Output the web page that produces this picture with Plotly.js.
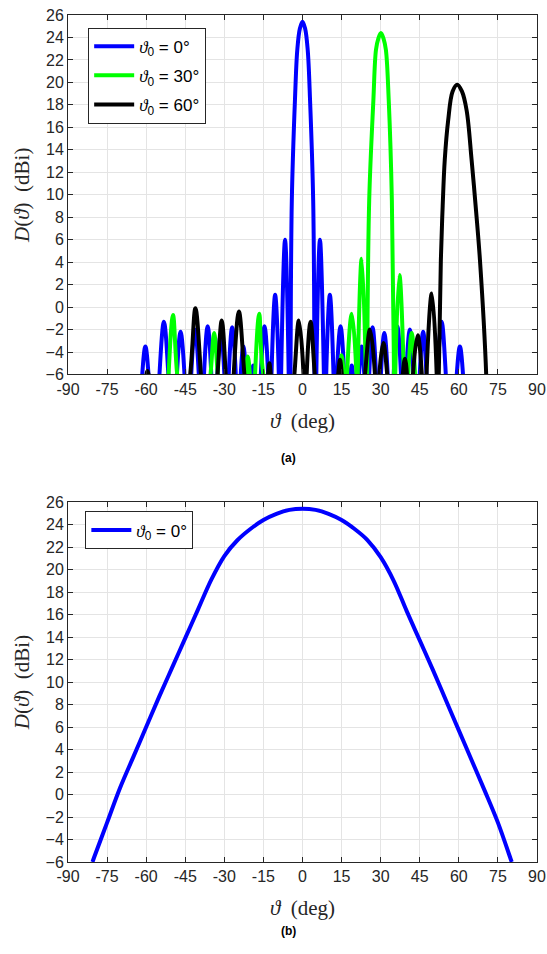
<!DOCTYPE html>
<html>
<head>
<meta charset="utf-8">
<script src="https://cdn.plot.ly/plotly-3.0.1.min.js"></script>
<style>html,body{margin:0;padding:0;background:#fff;}#chart{width:547px;height:954px;}</style>
</head>
<body>
<div id="chart"></div>
<script>
// ---------- data: panel (a) ----------
const xTicks = [-90,-75,-60,-45,-30,-15,0,15,30,45,60,75,90];
const xTickText = ['-90','-75','-60','-45','-30','-15','0','15','30','45','60','75','90'];
const yTicks = [-6,-4,-2,0,2,4,6,8,10,12,14,16,18,20,22,24,26];

const seriesNamesA = ['ϑ0 = 0°','ϑ0 = 30°','ϑ0 = 60°'];

// theta0 = 0 deg (blue)
const blueTheta = [-63,-61.5,-60.3,-59.1,-57,-54.9,-53.2,-51.5,-49.9,-48.2,-46.8,-45.3,-44.1,-42.7,-41.3,-39.8,-38.8,-37.8,-36.4,-35.0,-33.9,-32.7,-31.3,-30.0,-29.2,-28.3,-27.0,-25.6,-24.7,-23.7,-22.7,-21.7,-20.6,-19.4,-18.9,-18.4,-17.2,-16.0,-14.6,-13.2,-12.6,-11.9,-10.5,-9.1,-8.7,-8.2,-6.7,-5.3,-4.95,
  -4.6,-4.1,-2.9,-2.0,-1.0,0,1.0,2.0,2.9,4.1,4.6,
  4.95,5.3,6.7,8.2,8.7,9.1,10.5,11.9,12.6,13.2,14.6,16.0,17.2,18.4,18.9,19.4,20.6,21.7,22.7,23.7,24.7,25.6,26.9,28.2,29.2,30.1,31.4,32.7,33.9,35.0,36.4,37.8,38.8,39.8,41.2,42.6,43.8,45.0,46.3,47.6,49.7,51.8,53.4,55.0,57.1,59.2,60.4,61.6,63];
const blueD = [-20,-6,-3.5,-6,-20,-6,-1.3,-6,-20,-6,-2.2,-6,-20,-6,-2.0,-6,-20,-6,-1.7,-6,-20,-6,-2.3,-6,-20,-6,-1.8,-6,-20,-6,-3.5,-6,-20,-6,-5.2,-6,-20,-6,-1.7,-6,-20,-6,1.1,-6,-20,-6,6.0,-6,-30,
  -6,9.5,18.4,22.9,24.8,25.4,24.8,22.9,18.4,9.5,-6,
  -30,-6,6.0,-6,-20,-6,1.1,-6,-20,-6,-1.7,-6,-20,-6,-5.2,-6,-20,-6,-3.5,-6,-20,-6,-1.8,-6,-20,-6,-2.3,-6,-20,-6,-1.7,-6,-20,-6,-2.0,-6,-20,-6,-2.2,-6,-20,-6,-1.3,-6,-20,-6,-3.5,-6,-20];

// theta0 = 30 deg (green)
const greenTheta = [-53,-51.4,-49.7,-48.1,-41,-35.3,-33.9,-32.5,-27,-21.8,-21.0,-20.2,-19.2,-18.2,-16.6,-15.0,0,14.2,15.0,15.8,16.4,17.1,18.9,20.7,20.95,21.2,22.7,24.3,24.55,
  24.8,25.6,27.2,28.2,29.1,30.1,31.1,32.0,33.1,34.3,35.1,
  35.35,35.6,37.2,38.9,39.7,40.6,41.9,43.2,45];
const greenD = [-20,-6,-0.7,-6,-20,-6,-2.3,-6,-20,-6,-4.4,-6,-20,-6,-0.6,-6,-20,-6,-4.3,-6,-20,-6,-0.6,-6,-20,-6,4.3,-6,-25,
  -6,9.5,18.4,22.9,23.9,24.4,23.9,22.9,18.4,9.5,-6,
  -25,-6,2.85,-6,-20,-6,-2.3,-6,-20];

// theta0 = 60 deg (black)
const blackTheta = [-61,-59.9,-59.5,-59.1,-51,-43.1,-41.1,-39.0,-36,-32.6,-31.0,-29.5,-28,-26.4,-24.4,-22.3,-17.7,-13.2,-12.7,-12.2,-7.5,-3.1,-1.4,0.4,1.0,1.6,3.1,4.7,9.2,13.7,14.4,15.1,19.6,24.0,25.9,27.8,28.6,29.5,31.0,32.5,35.5,38.5,39.3,40.1,41.2,42.4,44.2,45.8,46.7,47.6,49.6,51.5,51.9,
  52.3,53.1,53.8,54.6,55.9,57.6,59.4,61.2,63.0,64.9,66.6,68.1,70.5,72];
const blackD = [-20,-6,-5.7,-6,-20,-6,-0.1,-6,-20,-6,-1.2,-6,-20,-6,-0.4,-6,-20,-6,-5.0,-6,-20,-6,-1.2,-6,-20,-6,-1.3,-6,-20,-6,-4.7,-6,-20,-6,-2.0,-6,-20,-6,-3.2,-6,-20,-6,-4.6,-6,-20,-6,-2.5,-6,-20,-6,1.2,-6,-25,
  -6,4.2,9.0,13.1,16.6,19.2,19.8,19.2,17.5,13.1,8.6,4.2,-6,-25];

// ---------- data: panel (b) ----------
const elemTheta = [-80.6,-80,-75,-70,-65,-60,-55,-50,-45,-40,-35,-30,-25,-20,-15,-10,-5,0,5,10,15,20,25,30,35,40,45,50,55,60,65,70,75,80,80.3];
const elemD = [-6,-5.6,-2.5,0.6,3.3,6.0,8.7,11.3,13.9,16.5,19.1,21.2,22.6,23.6,24.4,24.95,25.3,25.4,25.3,24.95,24.4,23.6,22.6,21.1,19.0,16.3,13.7,11.1,8.4,5.7,3.0,0.3,-2.5,-5.8,-6];

// ---------- styling ----------
const tickFont = {family:'Liberation Sans, Arial, sans-serif', size:16, color:'#262626'};
const titleFont = {family:'Liberation Serif, DejaVu Serif, serif', size:21, color:'#262626'};
const legFont = {family:'Liberation Sans, Arial, sans-serif', size:17, color:'#000'};
function legName(s){
  const deg = s.split('= ')[1];
  return '<span style="font-family:\'Liberation Serif\';font-style:italic">ϑ</span><sub>0</sub> = ' + deg;
}
function xAxis(anchor){
  return {anchor:anchor, range:[-90,90], tickmode:'array', tickvals:xTicks, ticktext:xTickText,
    ticks:'inside', ticklen:5, tickcolor:'#262626', showline:true, linecolor:'#262626', linewidth:1,
    mirror:'ticks', showgrid:true, gridcolor:'#e4e4e4', gridwidth:1, zeroline:false, tickfont:tickFont,
    title:{text:'<i>ϑ</i>  (deg)', font:titleFont, standoff:16}};
}
function yAxis(anchor, domain){
  return {anchor:anchor, domain:domain, range:[-6,26], tickmode:'array', tickvals:yTicks,
    ticks:'inside', ticklen:5, tickcolor:'#262626', showline:true, linecolor:'#262626', linewidth:1,
    mirror:'ticks', showgrid:true, gridcolor:'#e4e4e4', gridwidth:1, zeroline:false, tickfont:tickFont,
    title:{text:'<i>D</i>(<i>ϑ</i>)  (dBi)', font:titleFont, standoff:10}};
}

const traces = [
  {x:blueTheta, y:blueD, name:legName(seriesNamesA[0]), legendgroup:'g0', mode:'lines', line:{color:'#0000ff', width:4, shape:'spline', smoothing:1}, xaxis:'x', yaxis:'y', legend:'legend'},
  {x:greenTheta, y:greenD, name:legName(seriesNamesA[1]), legendgroup:'g1', mode:'lines', line:{color:'#00ff00', width:4, shape:'spline', smoothing:1}, xaxis:'x', yaxis:'y', legend:'legend'},
  {x:blackTheta, y:blackD, name:legName(seriesNamesA[2]), legendgroup:'g2', mode:'lines', line:{color:'#000000', width:4, shape:'spline', smoothing:1}, xaxis:'x', yaxis:'y', legend:'legend'},
  {x:elemTheta, y:elemD, name:legName(seriesNamesA[0]), legendgroup:'g3', mode:'lines', line:{color:'#0000ff', width:4, shape:'spline', smoothing:1}, xaxis:'x2', yaxis:'y2', legend:'legend2'}
];

const layout = {
  width:547, height:954,
  margin:{l:68, r:10, t:15, b:92},
  paper_bgcolor:'#fff', plot_bgcolor:'#fff',
  showlegend:true,
  xaxis:xAxis('y'),
  yaxis:yAxis('x',[0.5756,1]),
  xaxis2:xAxis('y2'),
  yaxis2:yAxis('x2',[0,0.425]),
  legend:{x:0.043, y:0.985, xanchor:'left', yanchor:'top', bgcolor:'#fff', bordercolor:'#262626', borderwidth:1, font:legFont, itemwidth:40, tracegroupgap:4},
  legend2:{x:0.037, y:0.414, xanchor:'left', yanchor:'top', bgcolor:'#fff', bordercolor:'#262626', borderwidth:1, font:legFont, itemwidth:40},
  annotations:[
    {text:'<b>(a)</b>', xref:'paper', yref:'paper', x:0.47, y:0.477, showarrow:false, font:{family:'Liberation Sans, Arial, sans-serif', size:12, color:'#000'}},
    {text:'<b>(b)</b>', xref:'paper', yref:'paper', x:0.47, y:-0.092, showarrow:false, font:{family:'Liberation Sans, Arial, sans-serif', size:12, color:'#000'}}
  ]
};

Plotly.newPlot('chart', traces, layout, {displayModeBar:false, staticPlot:true});
</script>
</body>
</html>
